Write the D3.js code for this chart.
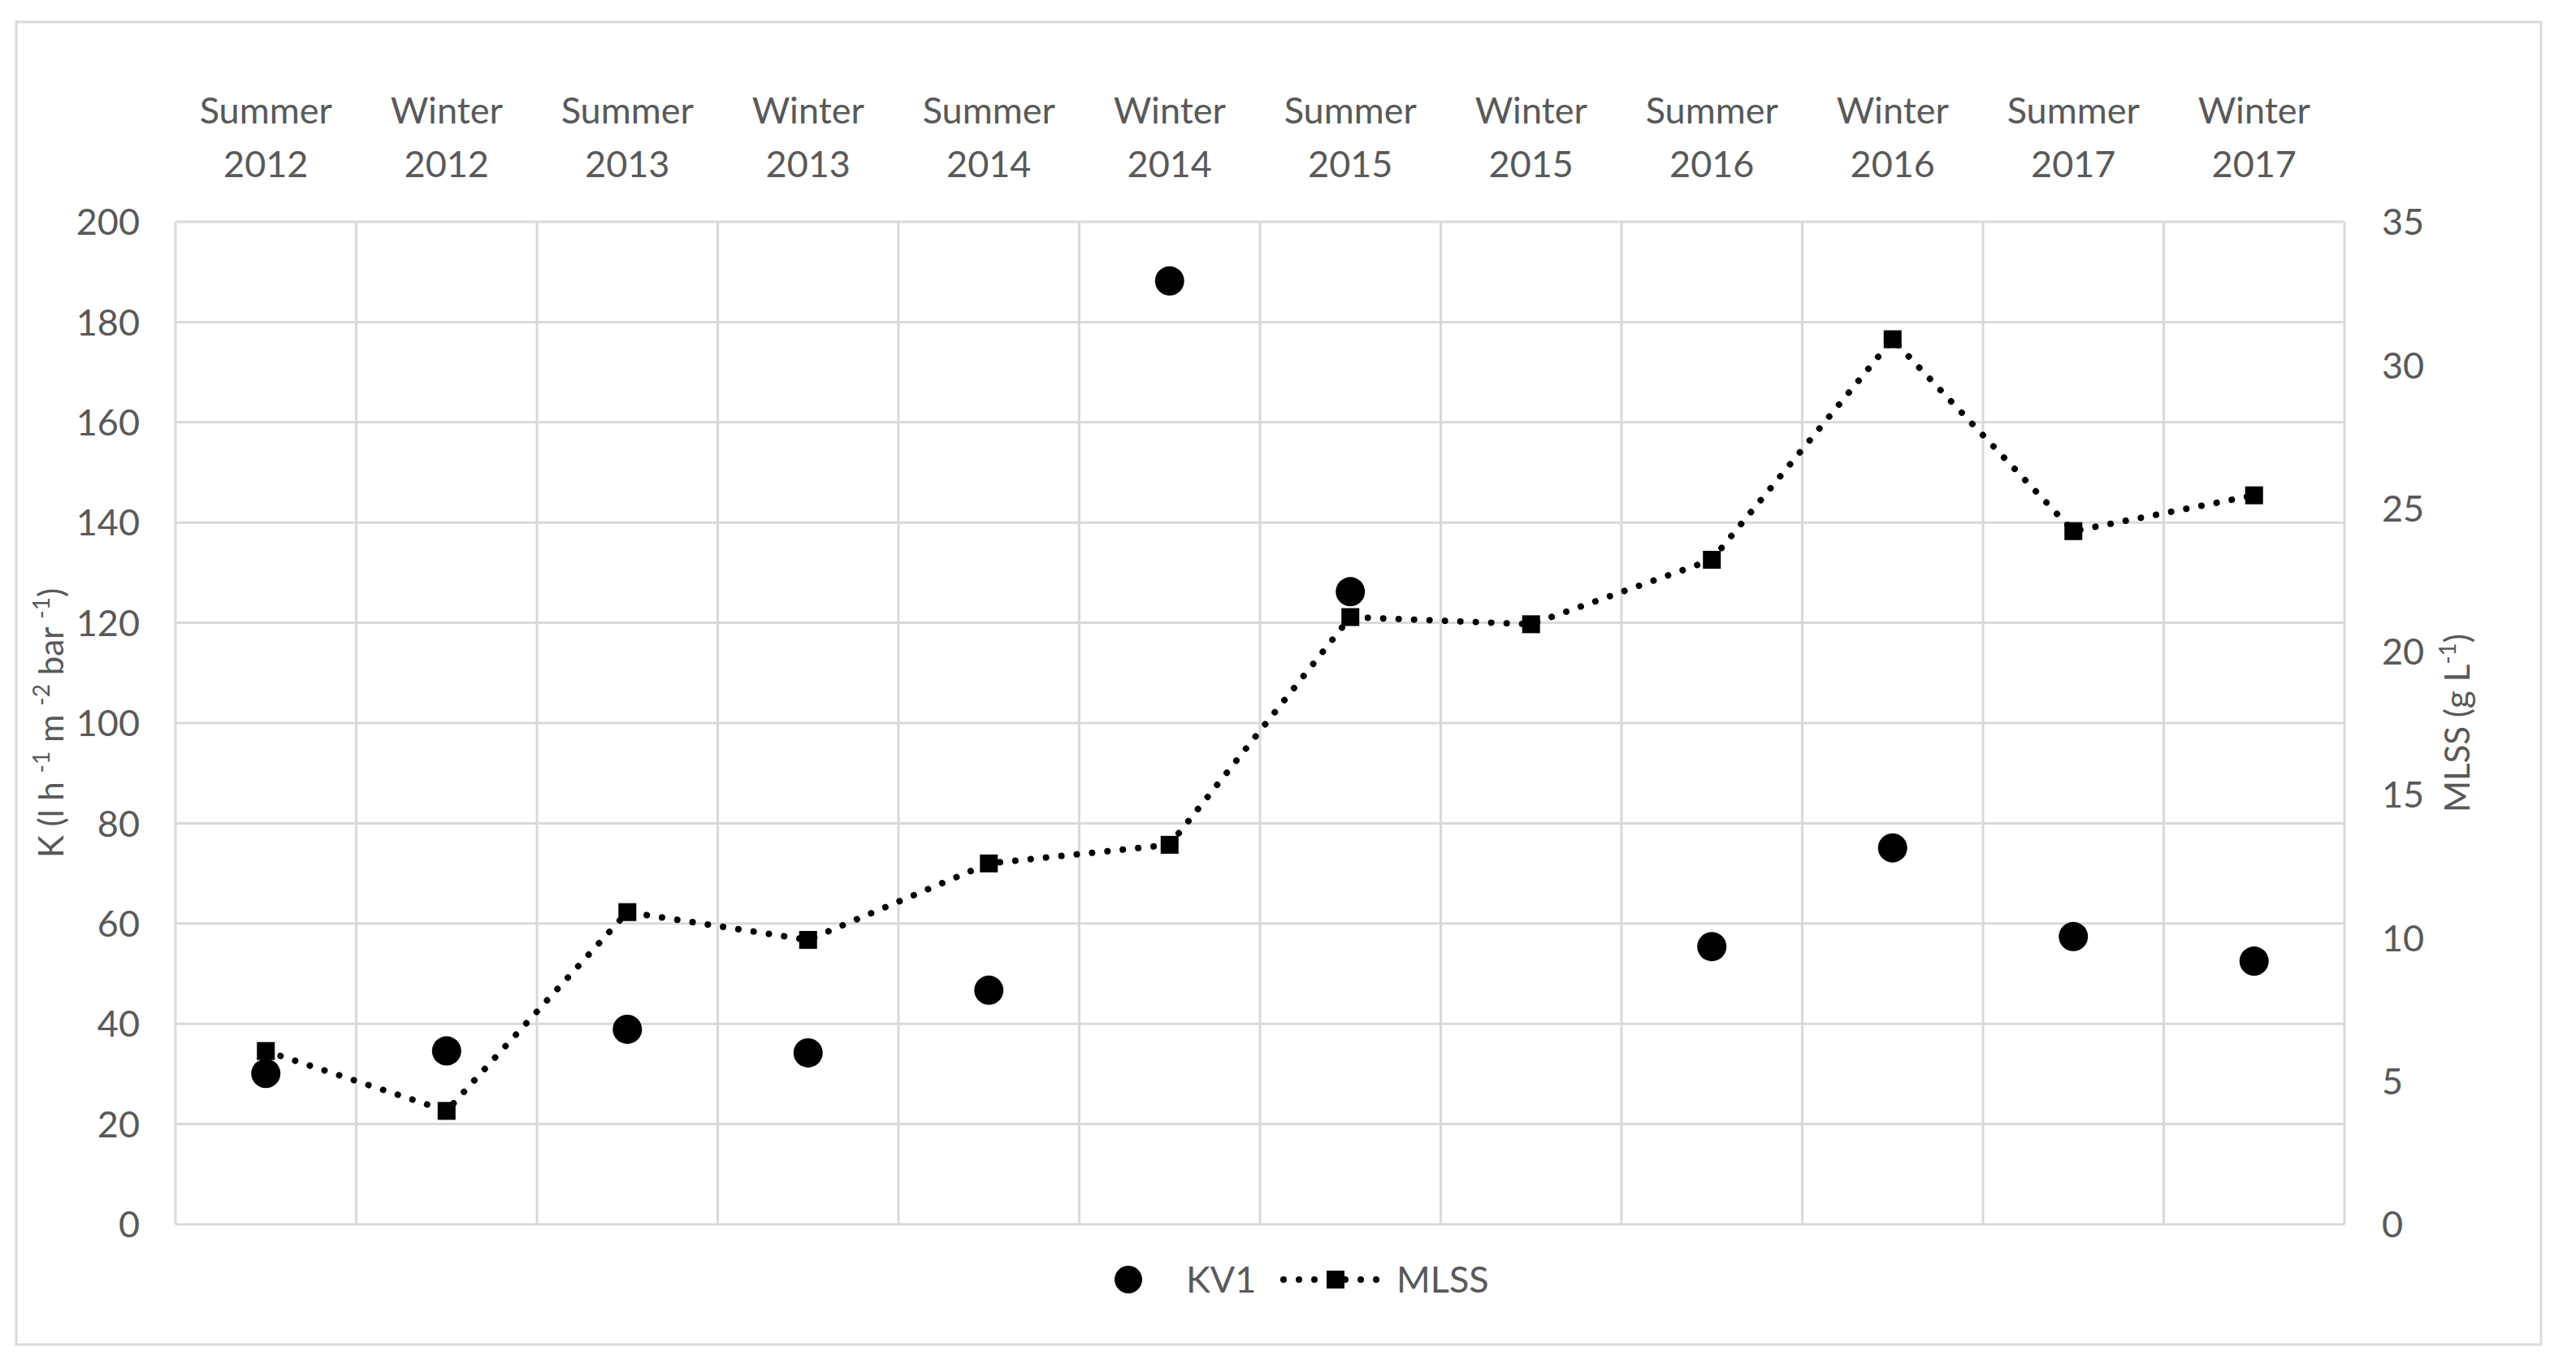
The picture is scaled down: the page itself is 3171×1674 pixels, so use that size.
<!DOCTYPE html>
<html><head><meta charset="utf-8">
<script src="https://cdn.jsdelivr.net/npm/d3@7"></script>
<style>
html,body{margin:0;padding:0;background:#fff;}
svg text{font-family:Lato,"Open Sans",sans-serif;fill:#595959;}
</style></head>
<body>
<svg id="chart" width="3171" height="1674"></svg>
<script>
const categories = [
  ["Summer","2012"],["Winter","2012"],["Summer","2013"],["Winter","2013"],
  ["Summer","2014"],["Winter","2014"],["Summer","2015"],["Winter","2015"],
  ["Summer","2016"],["Winter","2016"],["Summer","2017"],["Winter","2017"]
];
const kv1 = [30.1, 34.6, 38.9, 34.2, 46.7, 188.2, 126.2, null, 55.4, 75.1, 57.4, 52.5];
const mlss = [6.05, 3.96, 10.9, 9.93, 12.6, 13.25, 21.2, 20.95, 23.2, 30.9, 24.2, 25.45];
const leftTicks = [0,20,40,60,80,100,120,140,160,180,200];
const rightTicks = [0,5,10,15,20,25,30,35];

const svg = d3.select("#chart");
const plot = {left:216, right:2886, top:273, bottom:1507};
const grid = "#d9d9d9";

// outer border
svg.append("rect").attr("x",20).attr("y",27).attr("width",3108).attr("height",1628)
  .attr("fill","none").attr("stroke",grid).attr("stroke-width",3);

const keys = categories.map(c=>c.join(" "));
const x = d3.scaleBand().domain(keys).range([plot.left, plot.right]).padding(0);
const yL = d3.scaleLinear().domain([0,200]).range([plot.bottom, plot.top]);
const yR = d3.scaleLinear().domain([0,35]).range([plot.bottom, plot.top]);

// horizontal gridlines
svg.append("g").selectAll("line").data(leftTicks).join("line")
  .attr("x1",plot.left).attr("x2",plot.right)
  .attr("y1",d=>yL(d)).attr("y2",d=>yL(d))
  .attr("stroke",grid).attr("stroke-width",3);

// vertical gridlines at category boundaries
const bounds = keys.map(k=>x(k)).concat([plot.right]);
svg.append("g").selectAll("line").data(bounds).join("line")
  .attr("x1",d=>d).attr("x2",d=>d)
  .attr("y1",plot.top).attr("y2",plot.bottom)
  .attr("stroke",grid).attr("stroke-width",3);

const fs = 45;
const gL = svg.append("g").attr("transform",`translate(${plot.left-44},0)`)
  .call(d3.axisLeft(yL).tickValues(leftTicks).tickSize(0).tickPadding(0));
gL.select(".domain").remove();
gL.selectAll("text").attr("font-size",fs).attr("dy","0.35em").style("fill","#595959").attr("font-family","Lato");

const gR = svg.append("g").attr("transform",`translate(${plot.right+46},0)`)
  .call(d3.axisRight(yR).tickValues(rightTicks).tickSize(0).tickPadding(0));
gR.select(".domain").remove();
gR.selectAll("text").attr("font-size",fs).attr("dy","0.35em").style("fill","#595959").attr("font-family","Lato");

// top category labels
const gT = svg.append("g");
categories.forEach((c,i)=>{
  const cx = x(keys[i]) + x.bandwidth()/2;
  const t = gT.append("text").attr("text-anchor","middle").attr("font-size",fs);
  t.append("tspan").attr("x",cx).attr("y",152).text(c[0]);
  t.append("tspan").attr("x",cx).attr("y",218).text(c[1]);
});

// axis titles
const lt = svg.append("text").attr("transform",`translate(78,${(plot.top+plot.bottom)/2}) rotate(-90)`)
  .attr("text-anchor","middle").attr("font-size",42);
lt.append("tspan").text("K (l h ");
lt.append("tspan").attr("baseline-shift","super").attr("font-size",28).text("-1");
lt.append("tspan").text(" m ");
lt.append("tspan").attr("baseline-shift","super").attr("font-size",28).text("-2");
lt.append("tspan").text(" bar ");
lt.append("tspan").attr("baseline-shift","super").attr("font-size",28).text("-1");
lt.append("tspan").text(")");

const rt = svg.append("text").attr("transform",`translate(3040,${(plot.top+plot.bottom)/2}) rotate(-90)`)
  .attr("text-anchor","middle").attr("font-size",42);
rt.append("tspan").text("MLSS (g L");
rt.append("tspan").attr("baseline-shift","super").attr("font-size",28).text("-1");
rt.append("tspan").text(")");

// MLSS dotted line
const line = d3.line().x((d,i)=>x(keys[i])+x.bandwidth()/2).y(d=>yR(d));
svg.append("path").datum(mlss).attr("d",line)
  .attr("fill","none").attr("stroke","#000").attr("stroke-width",8)
  .attr("stroke-dasharray","0.01 19").attr("stroke-linecap","round");
const sq = 22;
svg.append("g").selectAll("rect").data(mlss).join("rect")
  .attr("x",(d,i)=>x(keys[i])+x.bandwidth()/2-sq/2)
  .attr("y",d=>yR(d)-sq/2).attr("width",sq).attr("height",sq).attr("fill","#000");

// KV1 circles
svg.append("g").selectAll("circle").data(kv1.map((v,i)=>({v,i})).filter(d=>d.v!=null)).join("circle")
  .attr("cx",d=>x(keys[d.i])+x.bandwidth()/2).attr("cy",d=>yL(d.v))
  .attr("r",18).attr("fill","#000");

// legend
const ly = 1575;
const lg = svg.append("g");
lg.append("circle").attr("cx",1389).attr("cy",ly).attr("r",17).attr("fill","#000");
lg.append("text").attr("x",1460).attr("y",ly).attr("dy","0.35em").attr("font-size",fs).text("KV1");
lg.append("line").attr("x1",1580).attr("x2",1700).attr("y1",ly).attr("y2",ly)
  .attr("stroke","#000").attr("stroke-width",8).attr("stroke-dasharray","0.01 19").attr("stroke-linecap","round");
lg.append("rect").attr("x",1644-sq/2).attr("y",ly-sq/2).attr("width",sq).attr("height",sq).attr("fill","#000");
lg.append("text").attr("x",1719).attr("y",ly).attr("dy","0.35em").attr("font-size",fs).text("MLSS");
</script>
</body></html>
